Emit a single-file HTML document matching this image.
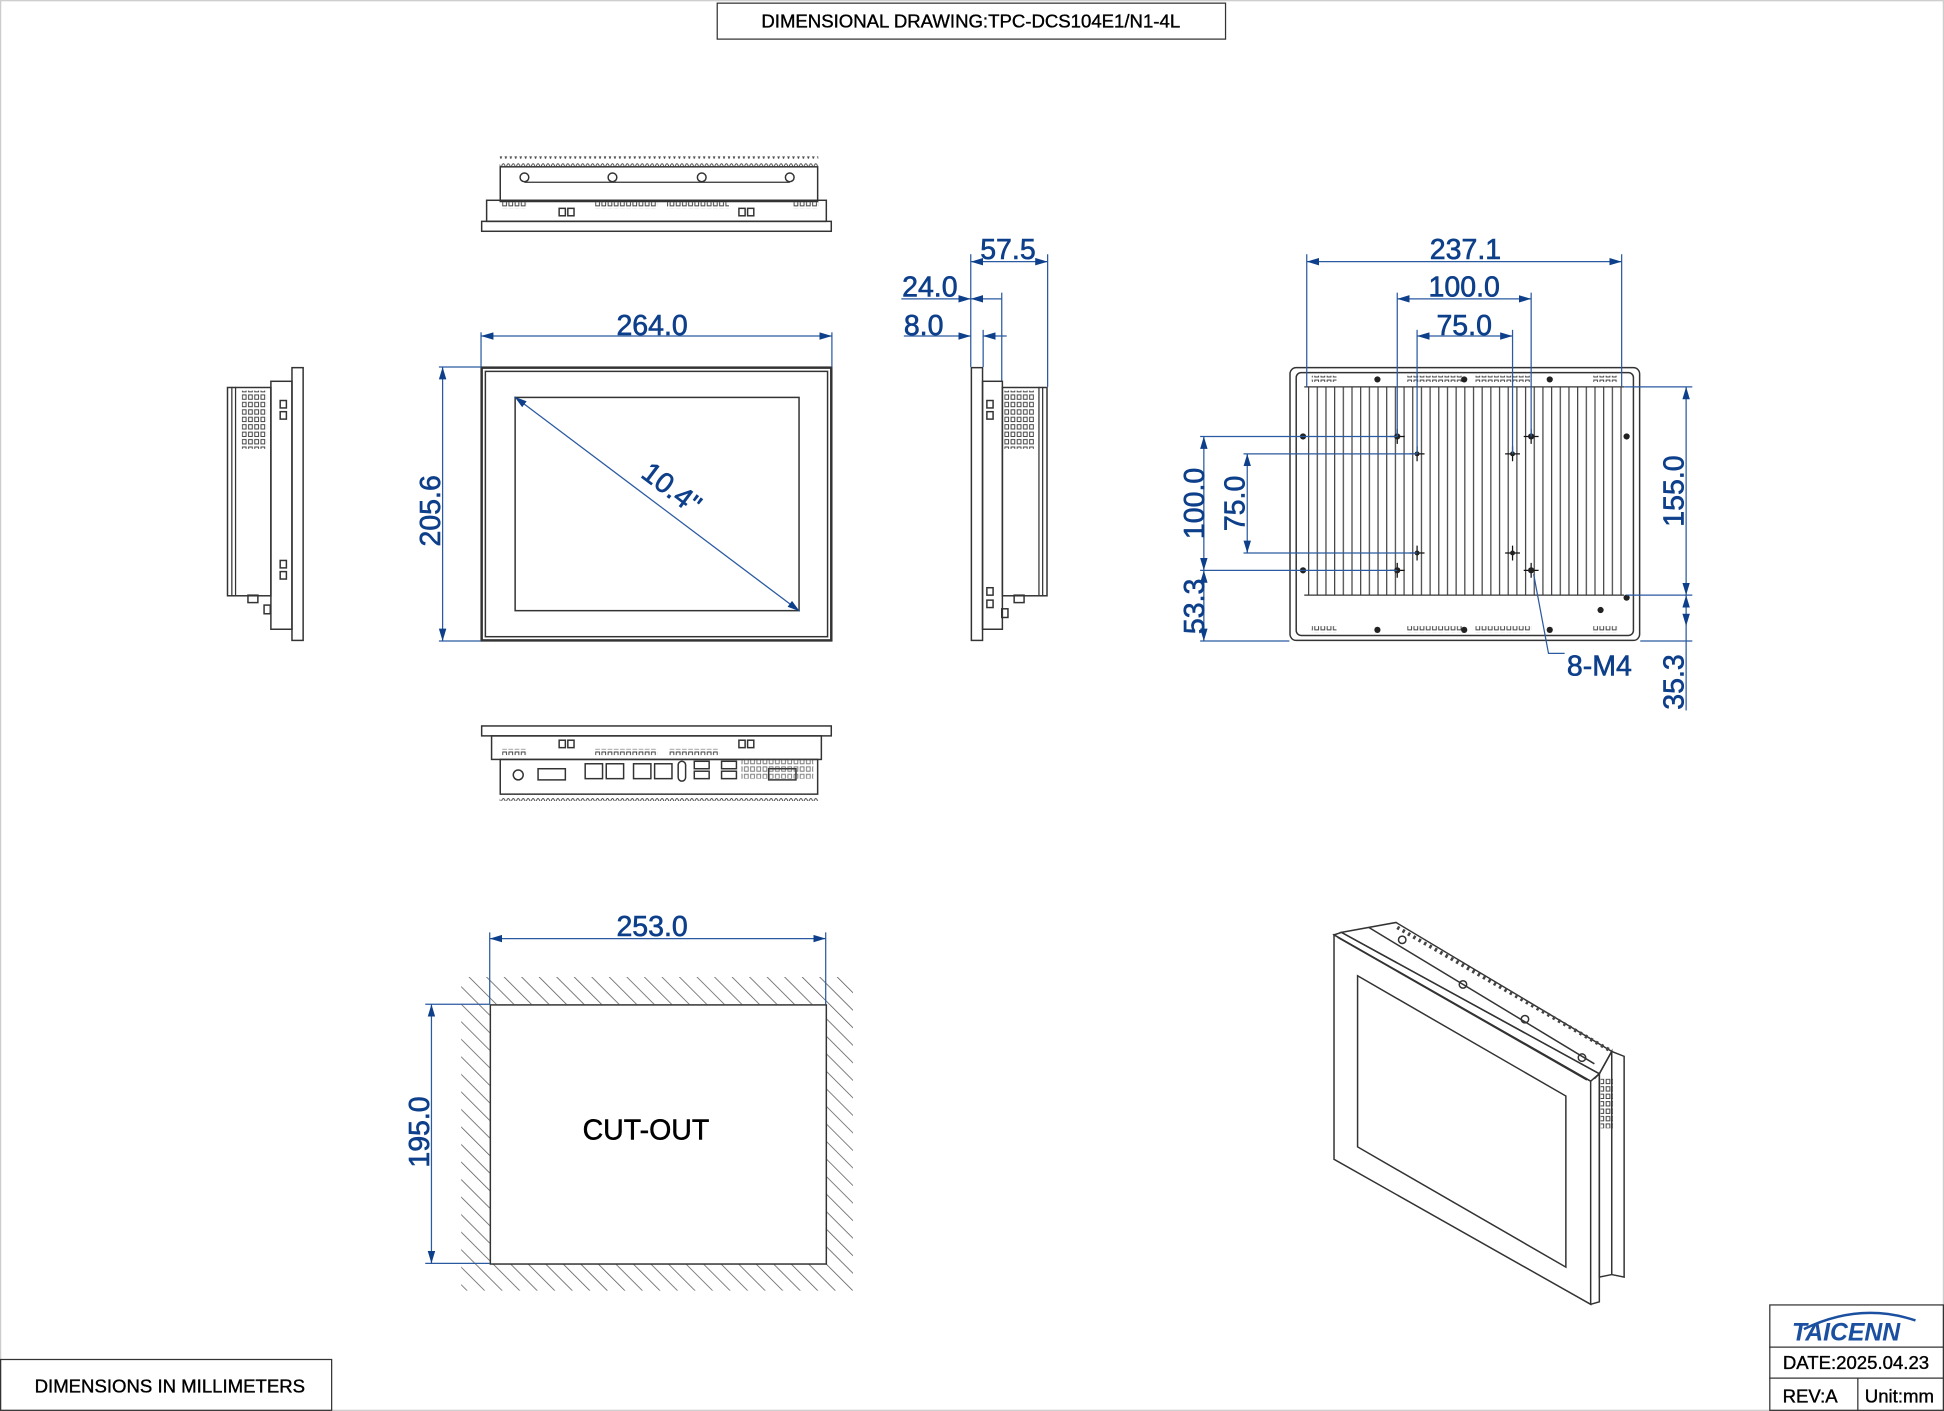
<!DOCTYPE html>
<html><head><meta charset="utf-8"><style>
html,body{margin:0;padding:0;background:#fff;}
svg{display:block;}
text{font-family:"Liberation Sans",sans-serif;}
.d{fill:#0d3f8a;font-size:23px;stroke:#0d3f8a;stroke-width:0.5;}
.k{fill:#000;}
.l{stroke:#333;fill:none;stroke-width:1.2;}
.b{stroke:#2a5aa0;stroke-width:1;fill:none;}
</style></head><body>
<svg width="1944" height="1411" viewBox="0 0 1568 1138" xmlns="http://www.w3.org/2000/svg">
<defs>
<marker id="a" viewBox="0 0 10 6" refX="10" refY="3" markerWidth="10" markerHeight="6" orient="auto-start-reverse" markerUnits="userSpaceOnUse"><path d="M0,0L10,3L0,6z" fill="#0d3f8a"/></marker>
<pattern id="h" width="10" height="10" patternUnits="userSpaceOnUse" patternTransform="rotate(-45)"><line x1="0" y1="0" x2="0" y2="10" stroke="#555" stroke-width="1.2"/></pattern>
<pattern id="f" width="7" height="10" patternUnits="userSpaceOnUse" x="1055"><line x1="0.5" y1="0" x2="0.5" y2="10" stroke="#444" stroke-width="1"/></pattern>
<pattern id="g" width="5" height="6" patternUnits="userSpaceOnUse"><rect x="0.5" y="0.5" width="3" height="3.5" fill="none" stroke="#444" stroke-width="0.8"/></pattern>
<pattern id="s" width="8" height="8" patternUnits="userSpaceOnUse"><path d="M0,8 Q2,0 4,8 Q6,0 8,8" fill="none" stroke="#444" stroke-width="0.8"/></pattern>
</defs>
<rect x="0.5" y="0.5" width="1567" height="1137" fill="none" stroke="#ccc"/>
<!-- title -->
<rect x="578.5" y="2.5" width="410" height="29" fill="none" stroke="#333"/>
<text x="783" y="22" text-anchor="middle" class="k" font-size="15" stroke="#000" stroke-width="0.3">DIMENSIONAL DRAWING:TPC-DCS104E1/N1-4L</text>
<rect x="0.5" y="1096.5" width="267" height="41" fill="none" stroke="#333"/>
<text x="137" y="1123" text-anchor="middle" class="k" font-size="15" stroke="#000" stroke-width="0.3">DIMENSIONS IN MILLIMETERS</text>
<!-- title block -->
<rect x="1427.5" y="1052.5" width="140" height="85" fill="none" stroke="#333"/>
<line x1="1427" y1="1086.5" x2="1568" y2="1086.5" stroke="#333"/>
<line x1="1427" y1="1111.5" x2="1568" y2="1111.5" stroke="#333"/>
<line x1="1498.5" y1="1111" x2="1498.5" y2="1138" stroke="#333"/>
<path d="M1455,1072 Q1500,1050 1545,1065" fill="none" stroke="#1b4fa0" stroke-width="2"/>
<text x="1489" y="1081" text-anchor="middle" fill="#1b4fa0" font-size="20" font-weight="bold" font-style="italic">TAICENN</text>
<text x="1497" y="1104" text-anchor="middle" class="k" font-size="15" stroke="#000" stroke-width="0.3">DATE:2025.04.23</text>
<text x="1460" y="1131" text-anchor="middle" class="k" font-size="15" stroke="#000" stroke-width="0.3">REV:A</text>
<text x="1532" y="1131" text-anchor="middle" class="k" font-size="15" stroke="#000" stroke-width="0.3">Unit:mm</text>

<!-- top view -->
<rect x="403" y="126" width="257" height="8" fill="url(#s)"/>
<rect x="403.5" y="134.5" width="256" height="28" class="l"/>
<line x1="423" y1="147" x2="637" y2="147" stroke="#333"/>
<g class="l"><circle cx="423" cy="143" r="3.5"/><circle cx="494" cy="143" r="3.5"/><circle cx="566" cy="143" r="3.5"/><circle cx="637" cy="143" r="3.5"/></g>
<rect x="392.5" y="161.5" width="274" height="17" class="l"/>
<rect x="388.5" y="178.5" width="282" height="8" class="l"/>
<rect x="405" y="163" width="20" height="5" fill="url(#g)"/><rect x="480" y="163" width="50" height="5" fill="url(#g)"/><rect x="538" y="163" width="50" height="5" fill="url(#g)"/><rect x="640" y="163" width="20" height="5" fill="url(#g)"/>
<g class="l"><rect x="451" y="168" width="5" height="6"/><rect x="458" y="168" width="5" height="6"/><rect x="596" y="168" width="5" height="6"/><rect x="603" y="168" width="5" height="6"/></g>

<!-- front view -->
<rect x="388.5" y="296.5" width="282" height="220" fill="none" stroke="#333" stroke-width="2"/>
<rect x="391.5" y="299.5" width="276" height="214" class="l"/>
<rect x="415.5" y="320.5" width="229" height="172" class="l"/>
<line x1="415" y1="320" x2="645" y2="493" class="b" marker-start="url(#a)" marker-end="url(#a)"/>
<text x="537" y="400" text-anchor="middle" class="d" transform="rotate(37 537 400)">10.4"</text>
<line x1="388" y1="268" x2="388" y2="296" class="b"/><line x1="671" y1="268" x2="671" y2="296" class="b"/>
<line x1="388" y1="271" x2="671" y2="271" class="b" marker-start="url(#a)" marker-end="url(#a)"/>
<text x="526" y="270" text-anchor="middle" class="d">264.0</text>
<line x1="354" y1="296" x2="388" y2="296" class="b"/><line x1="354" y1="517" x2="388" y2="517" class="b"/>
<line x1="357" y1="296" x2="357" y2="517" class="b" marker-start="url(#a)" marker-end="url(#a)"/>
<text x="355" y="412" text-anchor="middle" class="d" transform="rotate(-90 355 412)">205.6</text>

<!-- left side view -->
<rect x="235.5" y="296.5" width="9" height="220" class="l"/>
<rect x="218.5" y="307.5" width="17" height="200" class="l"/>
<rect x="183.5" y="312.5" width="35" height="168" class="l"/>
<line x1="187" y1="312" x2="187" y2="480" stroke="#333"/><line x1="190" y1="312" x2="190" y2="480" stroke="#333"/>
<rect x="195" y="315" width="20" height="47" fill="url(#g)"/>
<g class="l"><rect x="226" y="323" width="5" height="6"/><rect x="226" y="332" width="5" height="6"/><rect x="226" y="452" width="5" height="6"/><rect x="226" y="461" width="5" height="6"/><rect x="213" y="488" width="5" height="7"/><rect x="200" y="480" width="8" height="6"/></g>

<!-- right side view -->
<rect x="783.5" y="296.5" width="9" height="220" class="l"/>
<rect x="792.5" y="307.5" width="16" height="200" class="l"/>
<rect x="808.5" y="312.5" width="36" height="168" class="l"/>
<line x1="841" y1="312" x2="841" y2="480" stroke="#333"/><line x1="838" y1="312" x2="838" y2="480" stroke="#333"/>
<rect x="810" y="315" width="24" height="47" fill="url(#g)"/>
<g class="l"><rect x="796" y="323" width="5" height="6"/><rect x="796" y="332" width="5" height="6"/><rect x="796" y="474" width="5" height="6"/><rect x="796" y="484" width="5" height="6"/><rect x="808" y="491" width="5" height="7"/><rect x="818" y="480" width="8" height="6"/></g>
<line x1="783" y1="205" x2="783" y2="296" class="b"/><line x1="845" y1="205" x2="845" y2="312" class="b"/>
<line x1="793" y1="266" x2="793" y2="296" class="b"/><line x1="808" y1="236" x2="808" y2="307" class="b"/>
<line x1="783" y1="211" x2="845" y2="211" class="b" marker-start="url(#a)" marker-end="url(#a)"/>
<text x="813" y="209" text-anchor="middle" class="d">57.5</text>
<line x1="727" y1="241" x2="783" y2="241" class="b" marker-end="url(#a)"/><line x1="783" y1="241" x2="808" y2="241" class="b" marker-start="url(#a)"/>
<text x="750" y="239" text-anchor="middle" class="d">24.0</text>
<line x1="729" y1="271" x2="783" y2="271" class="b" marker-end="url(#a)"/><line x1="793" y1="271" x2="812" y2="271" class="b" marker-start="url(#a)"/>
<text x="745" y="270" text-anchor="middle" class="d">8.0</text>

<!-- bottom view -->
<rect x="388.5" y="585.5" width="282" height="8" class="l"/>
<rect x="396.5" y="593.5" width="266" height="19" class="l"/>
<rect x="403.5" y="612.5" width="256" height="28" class="l"/>
<rect x="403" y="640" width="257" height="6" fill="url(#s)"/>
<rect x="480" y="604" width="50" height="5" fill="url(#g)"/><rect x="540" y="604" width="40" height="5" fill="url(#g)"/><rect x="405" y="604" width="20" height="5" fill="url(#g)"/>
<g class="l"><rect x="451" y="597" width="5" height="6"/><rect x="458" y="597" width="5" height="6"/><rect x="596" y="597" width="5" height="6"/><rect x="603" y="597" width="5" height="6"/>
<circle cx="418" cy="625" r="4"/><rect x="434" y="620" width="22" height="9"/>
<rect x="472" y="616" width="14" height="12"/><rect x="489" y="616" width="14" height="12"/><rect x="511" y="616" width="14" height="12"/><rect x="528" y="616" width="14" height="12"/>
<rect x="547" y="614" width="6" height="16" rx="3"/><rect x="560" y="614" width="12" height="6"/><rect x="560" y="622" width="12" height="6"/><rect x="582" y="614" width="12" height="6"/><rect x="582" y="622" width="12" height="6"/><rect x="620" y="620" width="22" height="9"/></g>
<rect x="598" y="612" width="58" height="16" fill="url(#g)" opacity="0.7"/>

<!-- rear view -->
<rect x="1040.5" y="296.5" width="282" height="220" rx="5" class="l"/>
<rect x="1045.5" y="300.5" width="272" height="212" rx="4" class="l"/>
<rect x="1052" y="312" width="258" height="168" fill="url(#f)"/>
<line x1="1052" y1="312" x2="1310" y2="312" stroke="#333"/><line x1="1052" y1="480" x2="1310" y2="480" stroke="#333"/>
<rect x="1058" y="303" width="20" height="5" fill="url(#g)"/><rect x="1135" y="303" width="45" height="5" fill="url(#g)"/><rect x="1190" y="303" width="45" height="5" fill="url(#g)"/><rect x="1285" y="303" width="20" height="5" fill="url(#g)"/>
<rect x="1058" y="505" width="20" height="5" fill="url(#g)"/><rect x="1135" y="505" width="45" height="5" fill="url(#g)"/><rect x="1190" y="505" width="45" height="5" fill="url(#g)"/><rect x="1285" y="505" width="20" height="5" fill="url(#g)"/>
<g fill="#222"><circle cx="1111" cy="306" r="2.5"/><circle cx="1181" cy="306" r="2.5"/><circle cx="1250" cy="306" r="2.5"/><circle cx="1111" cy="508" r="2.5"/><circle cx="1181" cy="508" r="2.5"/><circle cx="1250" cy="508" r="2.5"/><circle cx="1051" cy="352" r="2.5"/><circle cx="1051" cy="460" r="2.5"/><circle cx="1312" cy="352" r="2.5"/><circle cx="1312" cy="482" r="2.5"/><circle cx="1291" cy="492" r="2.5"/></g>
<g stroke="#111" stroke-width="1"><path d="M1121,352h12M1127,346v12M1229,352h12M1235,346v12M1137,366h12M1143,360v12M1214,366h12M1220,360v12M1137,446h12M1143,440v12M1214,446h12M1220,440v12M1121,460h12M1127,454v12M1229,460h12M1235,454v12"/></g>
<g fill="#222"><circle cx="1127" cy="352" r="2.5"/><circle cx="1235" cy="352" r="2.5"/><circle cx="1143" cy="366" r="2"/><circle cx="1220" cy="366" r="2"/><circle cx="1143" cy="446" r="2"/><circle cx="1220" cy="446" r="2"/><circle cx="1127" cy="460" r="2.5"/><circle cx="1235" cy="460" r="2.5"/></g>
<!-- rear dims -->
<line x1="1054" y1="205" x2="1054" y2="312" class="b"/><line x1="1308" y1="205" x2="1308" y2="312" class="b"/>
<line x1="1054" y1="211" x2="1308" y2="211" class="b" marker-start="url(#a)" marker-end="url(#a)"/>
<text x="1182" y="209" text-anchor="middle" class="d">237.1</text>
<line x1="1127" y1="236" x2="1127" y2="352" class="b"/><line x1="1235" y1="236" x2="1235" y2="352" class="b"/>
<line x1="1127" y1="241" x2="1235" y2="241" class="b" marker-start="url(#a)" marker-end="url(#a)"/>
<text x="1181" y="239" text-anchor="middle" class="d">100.0</text>
<line x1="1143" y1="266" x2="1143" y2="366" class="b"/><line x1="1220" y1="266" x2="1220" y2="366" class="b"/>
<line x1="1143" y1="271" x2="1220" y2="271" class="b" marker-start="url(#a)" marker-end="url(#a)"/>
<text x="1181" y="270" text-anchor="middle" class="d">75.0</text>
<line x1="1310" y1="312" x2="1365" y2="312" class="b"/><line x1="1312" y1="480" x2="1365" y2="480" class="b"/><line x1="1323" y1="517" x2="1365" y2="517" class="b"/>
<line x1="1360" y1="312" x2="1360" y2="480" class="b" marker-start="url(#a)" marker-end="url(#a)"/>
<line x1="1360" y1="480" x2="1360" y2="573" class="b" marker-start="url(#a)"/>
<path d="M1360,505l-3,-10h6z" fill="#0d3f8a"/>
<text x="1358" y="396" text-anchor="middle" class="d" transform="rotate(-90 1358 396)">155.0</text>
<text x="1358" y="550" text-anchor="middle" class="d" transform="rotate(-90 1358 550)">35.3</text>
<line x1="968" y1="352" x2="1127" y2="352" class="b"/><line x1="968" y1="460" x2="1127" y2="460" class="b"/>
<line x1="1003" y1="366" x2="1143" y2="366" class="b"/><line x1="1003" y1="446" x2="1143" y2="446" class="b"/>
<line x1="968" y1="517" x2="1040" y2="517" class="b"/>
<line x1="971" y1="352" x2="971" y2="460" class="b" marker-start="url(#a)" marker-end="url(#a)"/>
<line x1="971" y1="460" x2="971" y2="517" class="b" marker-start="url(#a)" marker-end="url(#a)"/>
<line x1="1006" y1="366" x2="1006" y2="446" class="b" marker-start="url(#a)" marker-end="url(#a)"/>
<text x="971" y="406" text-anchor="middle" class="d" transform="rotate(-90 971 406)">100.0</text>
<text x="1004" y="406" text-anchor="middle" class="d" transform="rotate(-90 1004 406)">75.0</text>
<text x="971" y="489" text-anchor="middle" class="d" transform="rotate(-90 971 489)">53.3</text>
<polyline points="1237,463 1249,527 1262,527" class="b"/>
<text x="1290" y="545" text-anchor="middle" class="d">8-M4</text>

<!-- cutout -->
<path d="M372,788H688V1041H372Z M395,810V1019H666V810Z" fill="url(#h)" fill-rule="evenodd"/>
<rect x="395.5" y="810.5" width="271" height="209" fill="#fff" stroke="#333" stroke-width="1.2"/>
<text x="521" y="919" text-anchor="middle" class="k" font-size="23" stroke="#000" stroke-width="0.4">CUT-OUT</text>
<line x1="395" y1="752" x2="395" y2="810" class="b"/><line x1="666" y1="752" x2="666" y2="810" class="b"/>
<line x1="395" y1="757" x2="666" y2="757" class="b" marker-start="url(#a)" marker-end="url(#a)"/>
<text x="526" y="755" text-anchor="middle" class="d">253.0</text>
<line x1="343" y1="810" x2="395" y2="810" class="b"/><line x1="343" y1="1019" x2="395" y2="1019" class="b"/>
<line x1="348" y1="810" x2="348" y2="1019" class="b" marker-start="url(#a)" marker-end="url(#a)"/>
<text x="346" y="913" text-anchor="middle" class="d" transform="rotate(-90 346 913)">195.0</text>

<!-- isometric -->
<g class="l">
<polygon points="1082,752 1126,744 1300,848 1290,866"/>
<polyline points="1104,748 1286,858"/>
<polygon points="1290,866 1300,848 1300,1028 1290,1030"/>
<polyline points="1300,848 1310,852 1310,1030 1300,1028"/>
<polyline points="1286,870 1290,866 1290,1050 1283,1052"/>
<polygon points="1076,754 1082,752 1290,866 1283,872"/>
<polygon points="1076,754 1283,872 1283,1052 1076,935"/>
<polygon points="1095,787 1263,884 1263,1022 1095,925"/>
<polyline points="1079,756 1280,871"/>
</g>
<rect x="1291" y="870" width="10" height="40" fill="url(#g)"/>
<g class="l"><circle cx="1131" cy="758" r="3"/><circle cx="1180" cy="794" r="3"/><circle cx="1230" cy="822" r="3"/><circle cx="1276" cy="853" r="3"/></g>
<path d="M1127,748 L1300,848" stroke="#444" stroke-dasharray="2 3" stroke-width="3"/>
</svg>
</body></html>
